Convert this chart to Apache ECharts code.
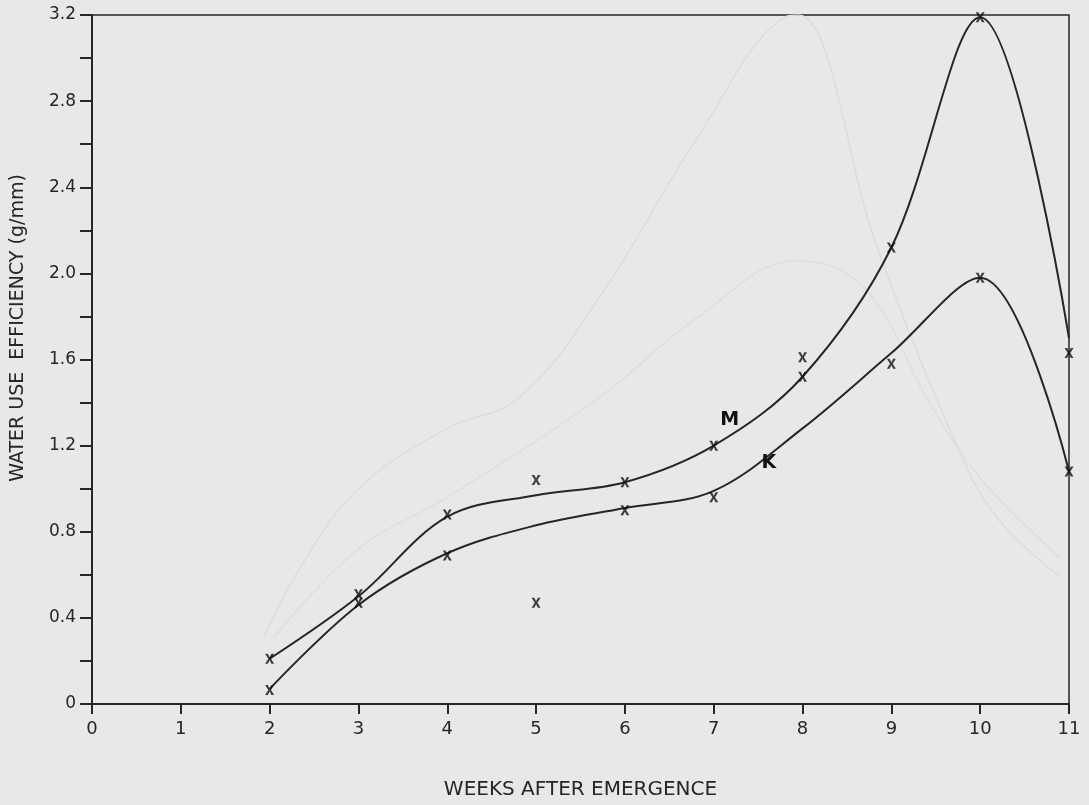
<!DOCTYPE html>
<html>
<head>
<meta charset="utf-8">
<title>Water use efficiency</title>
<script src="https://cdn.jsdelivr.net/npm/echarts@6/dist/echarts.min.js"></script>
<style>
  html, body { margin: 0; padding: 0; background: #e8e8e8; }
  #main { width: 1089px; height: 805px; }
</style>
</head>
<body>
<div id="main"></div>
<script>
// weeks after emergence (x ticks)
var weekTicks = [0, 1, 2, 3, 4, 5, 6, 7, 8, 9, 10, 11];
// fitted curve M (upper)
var mWeeks = [2, 3, 4, 5, 6, 7, 8, 9, 10, 11];
var mCurve = [0.21, 0.50, 0.87, 0.97, 1.03, 1.20, 1.52, 2.12, 3.19, 1.70];
// fitted curve K (lower)
var kWeeks = [2, 3, 4, 5, 6, 7, 8, 9, 10, 11];
var kCurve = [0.07, 0.46, 0.70, 0.83, 0.91, 0.99, 1.28, 1.63, 1.98, 1.08];
// measured points (x marks)
var markWeeks = [2, 2, 3, 3, 4, 4, 5, 5, 6, 6, 7, 7, 8, 8, 9, 9, 10, 10, 11, 11];
var markValues = [0.21, 0.065, 0.51, 0.47, 0.88, 0.69, 1.04, 0.47, 1.03, 0.90, 1.20, 0.96, 1.61, 1.52, 2.12, 1.58, 3.19, 1.98, 1.63, 1.08];
// show-through from the other side of the page (very faint)
var ghostAWeeks = [1.94, 2.34, 3.0, 4.0, 4.8, 5.7, 6.8, 7.8, 7.95, 8.85, 9.75, 10.2, 10.9];
var ghostAValues = [0.31, 0.63, 1.0, 1.28, 1.42, 1.88, 2.62, 3.19, 3.2, 2.11, 1.19, 0.86, 0.59];
var ghostBWeeks = [2.05, 3.0, 4.0, 5.7, 6.8, 7.95, 8.7, 9.4, 10.0, 10.9];
var ghostBValues = [0.31, 0.72, 0.96, 1.42, 1.79, 2.06, 1.93, 1.42, 1.05, 0.68];
// y tick labels every 0.4
var yTickLabels = ['0', '0.4', '0.8', '1.2', '1.6', '2.0', '2.4', '2.8', '3.2'];

var ink = '#262626';
var xMark = 'path://M0,0L3,0L5,3.5L7,0L10,0L6.5,5L10,10L7,10L5,6.5L3,10L0,10L3.5,5Z';

var pair = function(xs, ys){
	var out = [];
	for (var i = 0; i < xs.length; i++) {
		out.push([xs[i], ys[i]]);
	}
	return out;
};

var chart = echarts.init(document.getElementById('main'));
chart.setOption({
	backgroundColor: '#e8e8e8',
	animation: false,
	grid: {
		left: 92, right: 20, top: 15, bottom: 98,
		show: true,
		borderColor: ink,
		borderWidth: 1.5
	},
	xAxis: {
		type: 'value',
		min: 0, max: 11, interval: 1,
		name: 'WEEKS AFTER EMERGENCE',
		nameLocation: 'middle',
		nameGap: 76,
		nameTextStyle: { color: ink, fontSize: 20, fontFamily: 'DejaVu Sans' },
		axisLine: { lineStyle: { color: ink, width: 2 } },
		axisTick: { inside: false, length: 10, lineStyle: { color: ink, width: 2 } },
		axisLabel: {
			color: ink, fontSize: 18, margin: 16, fontFamily: 'DejaVu Sans',
			formatter: function(v){ return weekTicks.indexOf(v) >= 0 ? String(v) : ''; }
		},
		splitLine: { show: false }
	},
	yAxis: {
		type: 'value',
		min: 0, max: 3.2, interval: 0.2,
		axisLine: { show: true, lineStyle: { color: ink, width: 2 } },
		axisTick: { show: true, length: 12, lineStyle: { color: ink, width: 2 } },
		axisLabel: {
			color: ink, fontSize: 17, margin: 16, fontFamily: 'DejaVu Sans',
			formatter: function(v){
				var n = Math.round(v * 5);
				return n % 2 === 0 ? yTickLabels[n / 2] : '';
			}
		},
		splitLine: { show: false }
	},
	graphic: [{
		type: 'text',
		x: 18, y: 328,
		rotation: Math.PI / 2,
		style: {
			text: 'WATER USE  EFFICIENCY (g/mm)',
			fill: ink,
			font: '19px "DejaVu Sans"',
			align: 'center',
			verticalAlign: 'middle'
		}
	}],
	series: [
		{
			type: 'line', smooth: 0.4, symbol: 'none', silent: true,
			lineStyle: { color: '#dcdcdc', width: 1.5 },
			data: pair(ghostAWeeks, ghostAValues), z: 1
		},
		{
			type: 'line', smooth: 0.4, symbol: 'none', silent: true,
			lineStyle: { color: '#dedede', width: 1.5 },
			data: pair(ghostBWeeks, ghostBValues), z: 1
		},
		{
			name: 'M', type: 'line', smooth: 0.35, symbol: 'none',
			lineStyle: { color: ink, width: 2 },
			data: pair(mWeeks, mCurve), z: 3,
			markPoint: {
				symbol: 'circle', symbolSize: 0,
				label: { show: true, formatter: 'M', color: '#111', fontSize: 19, fontWeight: 'bold', fontFamily: 'DejaVu Sans' },
				data: [{ coord: [7.18, 1.32] }]
			}
		},
		{
			name: 'K', type: 'line', smooth: 0.35, symbol: 'none',
			lineStyle: { color: ink, width: 2 },
			data: pair(kWeeks, kCurve), z: 3,
			markPoint: {
				symbol: 'circle', symbolSize: 0,
				label: { show: true, formatter: 'K', color: '#111', fontSize: 19, fontWeight: 'bold', fontFamily: 'DejaVu Sans' },
				data: [{ coord: [7.62, 1.12] }]
			}
		},
		{
			type: 'scatter', symbol: xMark, symbolSize: [9, 10],
			itemStyle: { color: '#111' },
			data: pair(markWeeks, markValues), z: 4
		}
	]
});
</script>
</body>
</html>
